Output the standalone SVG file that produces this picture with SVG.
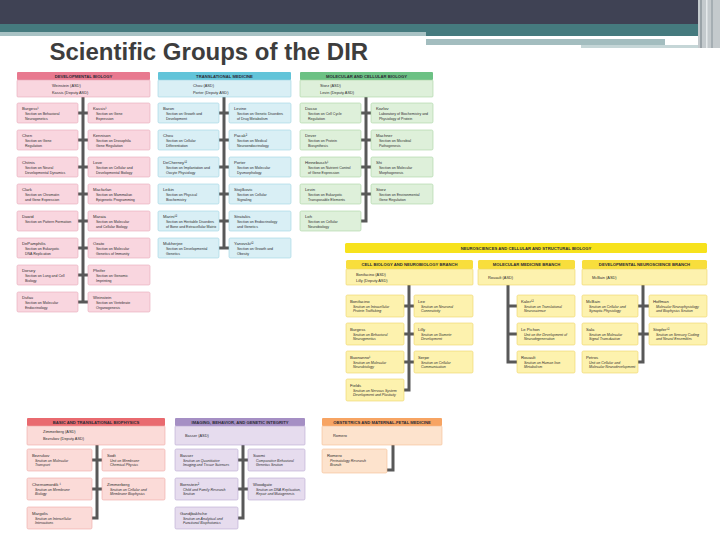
<svg xmlns="http://www.w3.org/2000/svg" width="720" height="540" viewBox="0 0 720 540">
<style>
text{font-family:"Liberation Sans",Arial,Helvetica,sans-serif;fill:#2e2e2e}
.title{font-size:24px;font-weight:bold;fill:#3d3d3d}
.hd{font-size:4.2px;font-weight:bold;text-anchor:middle;fill:#2b2b35}
.tp{font-size:3.9px}
.nm{font-size:4.2px}
.ds{font-size:3.55px}
.it .ds{font-style:italic}
.bx{stroke-width:0.6}
.dev .h{fill:#e8798f}.dev .bx{fill:#f9d6df;stroke:#e6a7b8}
.trn .h{fill:#62c4d9}.trn .bx{fill:#d9eff5;stroke:#9ed4e2}
.mcb .h{fill:#6cc184}.mcb .bx{fill:#def0da;stroke:#a8d5a3}
.neu .h{fill:#f8de3c}.neu .bx{fill:#fdf2ae;stroke:#efd466}
.bio .h{fill:#e96a6f}.bio .bx{fill:#fbdbd8;stroke:#eeaaa6}
.img .h{fill:#a58fc4}.img .bx{fill:#e6dcee;stroke:#bba8d1}
.obs .h{fill:#f7a463}.obs .bx{fill:#fde3cd;stroke:#f5bd91}
#connectors{stroke:#585858;stroke-width:3;fill:none;stroke-linecap:square}
</style>

<!-- slide banner -->
<g id="banner">
<rect x="0" y="0" width="720" height="540" fill="#ffffff"/>
<rect x="0" y="0" width="698" height="24" fill="#3f4254"/>
<rect x="0" y="24" width="698" height="8" fill="#457a7e"/>
<rect x="0" y="32" width="426" height="4" fill="#a8c2c4"/>
<rect x="426" y="32" width="272" height="4" fill="#457a7e"/>
<rect x="426" y="39" width="239" height="6" fill="#a3bdbf"/>
<rect x="581" y="45" width="124" height="3" fill="#c5d6d7"/>
<rect x="698" y="0" width="22" height="48" fill="#c4cacd"/>
<rect x="700" y="0" width="2" height="48" fill="#9aa3a8"/>
<rect x="706" y="0" width="1.5" height="48" fill="#e6eaec"/>
<rect x="711" y="0" width="2" height="48" fill="#a5aeb3"/>
<text class="title" x="49.5" y="59.5">Scientific Groups of the DIR</text>
</g>

<g id="connectors">
<path d="M83 97V302M78 113H88M78 140H88M78 167H88M78 194H88M78 221H88M78 248H88M78 275H88M78 302H88"/>
<path d="M224 97V248M219 113H229M219 140H229M219 167H229M219 194H229M219 221H229M219 248H229"/>
<path d="M366 97V221M361 113H371M361 140H371M361 167H371M361 194H371M361 221H366"/>
<path d="M409 285V390M404 306H414M404 334H414M404 362H414M404 390H409"/>
<path d="M508 285V362M508 306H517M508 334H517M508 362H517"/>
<path d="M643 285V362M638 306H649M638 334H649M638 362H643"/>
<path d="M97 445V518M92 460H102M92 489H102M92 518H97"/>
<path d="M243 445V518M238 460H248M238 489H248M238 518H243"/>
<path d="M393 445V470H387" stroke-linejoin="miter"/>
</g>

<!-- DEVELOPMENTAL BIOLOGY -->
<g class="dev">
<g id="dev-header"><rect class="h" x="17" y="72" width="133" height="8" rx="1"/><text class="hd" x="83.5" y="77.6">DEVELOPMENTAL BIOLOGY</text></g>
<g id="dev-top"><rect class="bx" x="17" y="80" width="133" height="17" rx="1"/><text class="tp" x="52" y="87">Weinstein (ASD)</text><text class="tp" x="52" y="93.5">Kassis (Deputy ASD)</text></g>
<g id="dev-burgess"><rect class="bx" x="17" y="103" width="61" height="20" rx="1.5"/><text class="nm" x="22" y="110">Burgess¹</text><text class="ds" x="25" y="115">Section on Behavioral</text><text class="ds" x="25" y="119.5">Neurogenetics</text></g>
<g id="dev-chen"><rect class="bx" x="17" y="130" width="61" height="20" rx="1.5"/><text class="nm" x="22" y="137">Chen</text><text class="ds" x="25" y="142">Section on Gene</text><text class="ds" x="25" y="146.5">Regulation</text></g>
<g id="dev-chitnis"><rect class="bx" x="17" y="157" width="61" height="20" rx="1.5"/><text class="nm" x="22" y="164">Chitnis</text><text class="ds" x="25" y="169">Section on Neural</text><text class="ds" x="25" y="173.5">Developmental Dynamics</text></g>
<g id="dev-clark"><rect class="bx" x="17" y="184" width="61" height="20" rx="1.5"/><text class="nm" x="22" y="191">Clark</text><text class="ds" x="25" y="196">Section on Chromatin</text><text class="ds" x="25" y="200.5">and Gene Expression</text></g>
<g id="dev-dawid"><rect class="bx" x="17" y="211" width="61" height="20" rx="1.5"/><text class="nm" x="22" y="218">Dawid</text><text class="ds" x="25" y="223">Section on Pattern Formation</text></g>
<g id="dev-depamphilis"><rect class="bx" x="17" y="238" width="61" height="20" rx="1.5"/><text class="nm" x="22" y="245">DePamphilis</text><text class="ds" x="25" y="250">Section on Eukaryotic</text><text class="ds" x="25" y="254.5">DNA Replication</text></g>
<g id="dev-dorsey"><rect class="bx" x="17" y="265" width="61" height="20" rx="1.5"/><text class="nm" x="22" y="272">Dorsey</text><text class="ds" x="25" y="277">Section on Lung and Cell</text><text class="ds" x="25" y="281.5">Biology</text></g>
<g id="dev-dufau"><rect class="bx" x="17" y="292" width="61" height="20" rx="1.5"/><text class="nm" x="22" y="299">Dufau</text><text class="ds" x="25" y="304">Section on Molecular</text><text class="ds" x="25" y="308.5">Endocrinology</text></g>
<g id="dev-kassis"><rect class="bx" x="88" y="103" width="62" height="20" rx="1.5"/><text class="nm" x="93" y="110">Kassis¹</text><text class="ds" x="96" y="115">Section on Gene</text><text class="ds" x="96" y="119.5">Expression</text></g>
<g id="dev-kennison"><rect class="bx" x="88" y="130" width="62" height="20" rx="1.5"/><text class="nm" x="93" y="137">Kennison</text><text class="ds" x="96" y="142">Section on Drosophila</text><text class="ds" x="96" y="146.5">Gene Regulation</text></g>
<g id="dev-love"><rect class="bx" x="88" y="157" width="62" height="20" rx="1.5"/><text class="nm" x="93" y="164">Love</text><text class="ds" x="96" y="169">Section on Cellular and</text><text class="ds" x="96" y="173.5">Developmental Biology</text></g>
<g id="dev-macfarlan"><rect class="bx" x="88" y="184" width="62" height="20" rx="1.5"/><text class="nm" x="93" y="191">Macfarlan</text><text class="ds" x="96" y="196">Section on Mammalian</text><text class="ds" x="96" y="200.5">Epigenetic Programming</text></g>
<g id="dev-maraia"><rect class="bx" x="88" y="211" width="62" height="20" rx="1.5"/><text class="nm" x="93" y="218">Maraia</text><text class="ds" x="96" y="223">Section on Molecular</text><text class="ds" x="96" y="227.5">and Cellular Biology</text></g>
<g id="dev-ozato"><rect class="bx" x="88" y="238" width="62" height="20" rx="1.5"/><text class="nm" x="93" y="245">Ozato</text><text class="ds" x="96" y="250">Section on Molecular</text><text class="ds" x="96" y="254.5">Genetics of Immunity</text></g>
<g id="dev-pfeifer"><rect class="bx" x="88" y="265" width="62" height="20" rx="1.5"/><text class="nm" x="93" y="272">Pfeifer</text><text class="ds" x="96" y="277">Section on Genomic</text><text class="ds" x="96" y="281.5">Imprinting</text></g>
<g id="dev-weinstein"><rect class="bx" x="88" y="292" width="62" height="20" rx="1.5"/><text class="nm" x="93" y="299">Weinstein</text><text class="ds" x="96" y="304">Section on Vertebrate</text><text class="ds" x="96" y="308.5">Organogenesis</text></g>
</g>

<!-- TRANSLATIONAL MEDICINE -->
<g class="trn">
<g id="trn-header"><rect class="h" x="158" y="72" width="133" height="8" rx="1"/><text class="hd" x="224.5" y="77.6">TRANSLATIONAL MEDICINE</text></g>
<g id="trn-top"><rect class="bx" x="158" y="80" width="133" height="17" rx="1"/><text class="tp" x="193" y="87">Chou (ASD)</text><text class="tp" x="193" y="93.5">Porter (Deputy ASD)</text></g>
<g id="trn-baron"><rect class="bx" x="158" y="103" width="61" height="20" rx="1.5"/><text class="nm" x="163" y="110">Baron</text><text class="ds" x="166" y="115">Section on Growth and</text><text class="ds" x="166" y="119.5">Development</text></g>
<g id="trn-chou"><rect class="bx" x="158" y="130" width="61" height="20" rx="1.5"/><text class="nm" x="163" y="137">Chou</text><text class="ds" x="166" y="142">Section on Cellular</text><text class="ds" x="166" y="146.5">Differentiation</text></g>
<g id="trn-decherney"><rect class="bx" x="158" y="157" width="61" height="20" rx="1.5"/><text class="nm" x="163" y="164">DeCherney¹²</text><text class="ds" x="166" y="169">Section on Implantation and</text><text class="ds" x="166" y="173.5">Oocyte Physiology</text></g>
<g id="trn-leikin"><rect class="bx" x="158" y="184" width="61" height="20" rx="1.5"/><text class="nm" x="163" y="191">Leikin</text><text class="ds" x="166" y="196">Section on Physical</text><text class="ds" x="166" y="200.5">Biochemistry</text></g>
<g id="trn-marini"><rect class="bx" x="158" y="211" width="61" height="20" rx="1.5"/><text class="nm" x="163" y="218">Marini¹²</text><text class="ds" x="166" y="223">Section on Heritable Disorders</text><text class="ds" x="166" y="227.5">of Bone and Extracellular Matrix</text></g>
<g id="trn-mukherjee"><rect class="bx" x="158" y="238" width="61" height="20" rx="1.5"/><text class="nm" x="163" y="245">Mukherjee</text><text class="ds" x="166" y="250">Section on Developmental</text><text class="ds" x="166" y="254.5">Genetics</text></g>
<g id="trn-levine"><rect class="bx" x="229" y="103" width="62" height="20" rx="1.5"/><text class="nm" x="234" y="110">Levine</text><text class="ds" x="237" y="115">Section on Genetic Disorders</text><text class="ds" x="237" y="119.5">of Drug Metabolism</text></g>
<g id="trn-pacak"><rect class="bx" x="229" y="130" width="62" height="20" rx="1.5"/><text class="nm" x="234" y="137">Pacak²</text><text class="ds" x="237" y="142">Section on Medical</text><text class="ds" x="237" y="146.5">Neuroendocrinology</text></g>
<g id="trn-porter"><rect class="bx" x="229" y="157" width="62" height="20" rx="1.5"/><text class="nm" x="234" y="164">Porter</text><text class="ds" x="237" y="169">Section on Molecular</text><text class="ds" x="237" y="173.5">Dysmorphology</text></g>
<g id="trn-stojilkovic"><rect class="bx" x="229" y="184" width="62" height="20" rx="1.5"/><text class="nm" x="234" y="191">Stojilkovic</text><text class="ds" x="237" y="196">Section on Cellular</text><text class="ds" x="237" y="200.5">Signaling</text></g>
<g id="trn-stratakis"><rect class="bx" x="229" y="211" width="62" height="20" rx="1.5"/><text class="nm" x="234" y="218">Stratakis</text><text class="ds" x="237" y="223">Section on Endocrinology</text><text class="ds" x="237" y="227.5">and Genetics</text></g>
<g id="trn-yanovski"><rect class="bx" x="229" y="238" width="62" height="20" rx="1.5"/><text class="nm" x="234" y="245">Yanovski¹²</text><text class="ds" x="237" y="250">Section on Growth and</text><text class="ds" x="237" y="254.5">Obesity</text></g>
</g>

<!-- MOLECULAR AND CELLULAR BIOLOGY -->
<g class="mcb">
<g id="mcb-header"><rect class="h" x="300" y="72" width="133" height="8" rx="1"/><text class="hd" x="366.5" y="77.6">MOLECULAR AND CELLULAR BIOLOGY</text></g>
<g id="mcb-top"><rect class="bx" x="300" y="80" width="133" height="17" rx="1"/><text class="tp" x="320" y="87">Storz (ASD)</text><text class="tp" x="320" y="93.5">Levin (Deputy ASD)</text></g>
<g id="mcb-dasso"><rect class="bx" x="300" y="103" width="61" height="20" rx="1.5"/><text class="nm" x="305" y="110">Dasso</text><text class="ds" x="308" y="115">Section on Cell Cycle</text><text class="ds" x="308" y="119.5">Regulation</text></g>
<g id="mcb-dever"><rect class="bx" x="300" y="130" width="61" height="20" rx="1.5"/><text class="nm" x="305" y="137">Dever</text><text class="ds" x="308" y="142">Section on Protein</text><text class="ds" x="308" y="146.5">Biosynthesis</text></g>
<g id="mcb-hinnebusch"><rect class="bx" x="300" y="157" width="61" height="20" rx="1.5"/><text class="nm" x="305" y="164">Hinnebusch¹</text><text class="ds" x="308" y="169">Section on Nutrient Control</text><text class="ds" x="308" y="173.5">of Gene Expression</text></g>
<g id="mcb-levin"><rect class="bx" x="300" y="184" width="61" height="20" rx="1.5"/><text class="nm" x="305" y="191">Levin</text><text class="ds" x="308" y="196">Section on Eukaryotic</text><text class="ds" x="308" y="200.5">Transposable Elements</text></g>
<g id="mcb-loh"><rect class="bx" x="300" y="211" width="61" height="20" rx="1.5"/><text class="nm" x="305" y="218">Loh</text><text class="ds" x="308" y="223">Section on Cellular</text><text class="ds" x="308" y="227.5">Neurobiology</text></g>
<g id="mcb-kozlov"><rect class="bx" x="371" y="103" width="62" height="20" rx="1.5"/><text class="nm" x="376" y="110">Kozlov</text><text class="ds" x="379" y="115">Laboratory of Biochemistry and</text><text class="ds" x="379" y="119.5">Physiology of Protein</text></g>
<g id="mcb-machner"><rect class="bx" x="371" y="130" width="62" height="20" rx="1.5"/><text class="nm" x="376" y="137">Machner</text><text class="ds" x="379" y="142">Section on Microbial</text><text class="ds" x="379" y="146.5">Pathogenesis</text></g>
<g id="mcb-shi"><rect class="bx" x="371" y="157" width="62" height="20" rx="1.5"/><text class="nm" x="376" y="164">Shi</text><text class="ds" x="379" y="169">Section on Molecular</text><text class="ds" x="379" y="173.5">Morphogenesis</text></g>
<g id="mcb-storz"><rect class="bx" x="371" y="184" width="62" height="20" rx="1.5"/><text class="nm" x="376" y="191">Storz</text><text class="ds" x="379" y="196">Section on Environmental</text><text class="ds" x="379" y="200.5">Gene Regulation</text></g>
</g>

<!-- NEUROSCIENCES -->
<g class="neu it">
<g id="neu-banner"><rect x="345" y="243" width="362" height="10" rx="1.5" fill="#f7e21c"/><text class="hd" x="526" y="249.6">NEUROSCIENCES AND CELLULAR AND STRUCTURAL BIOLOGY</text></g>
<g id="cbnb-header"><rect class="h" x="346" y="260" width="127" height="9" rx="1.5"/><text class="hd" x="409.5" y="266">CELL BIOLOGY AND NEUROBIOLOGY BRANCH</text></g>
<g id="cbnb-top"><rect class="bx" x="346" y="269" width="127" height="16" rx="1"/><text class="tp" x="356" y="275.5">Bonifacino (ASD)</text><text class="tp" x="356" y="281.5">Lilly (Deputy ASD)</text></g>
<g id="cbnb-bonifacino"><rect class="bx" x="346" y="295" width="58" height="22" rx="1.5"/><text class="nm" x="350" y="302.5">Bonifacino</text><text class="ds" x="353" y="307.5">Section on Intracellular</text><text class="ds" x="353" y="312">Protein Trafficking</text></g>
<g id="cbnb-burgess"><rect class="bx" x="346" y="323" width="58" height="22" rx="1.5"/><text class="nm" x="350" y="330.5">Burgess</text><text class="ds" x="353" y="335.5">Section on Behavioral</text><text class="ds" x="353" y="340">Neurogenetics</text></g>
<g id="cbnb-buonanno"><rect class="bx" x="346" y="351" width="58" height="22" rx="1.5"/><text class="nm" x="350" y="358.5">Buonanno¹</text><text class="ds" x="353" y="363.5">Section on Molecular</text><text class="ds" x="353" y="368">Neurobiology</text></g>
<g id="cbnb-fields"><rect class="bx" x="346" y="379" width="58" height="22" rx="1.5"/><text class="nm" x="350" y="386.5">Fields</text><text class="ds" x="353" y="391.5">Section on Nervous System</text><text class="ds" x="353" y="396">Development and Plasticity</text></g>
<g id="cbnb-lee"><rect class="bx" x="414" y="295" width="59" height="22" rx="1.5"/><text class="nm" x="418" y="302.5">Lee</text><text class="ds" x="421" y="307.5">Section on Neuronal</text><text class="ds" x="421" y="312">Connectivity</text></g>
<g id="cbnb-lilly"><rect class="bx" x="414" y="323" width="59" height="22" rx="1.5"/><text class="nm" x="418" y="330.5">Lilly</text><text class="ds" x="421" y="335.5">Section on Gamete</text><text class="ds" x="421" y="340">Development</text></g>
<g id="cbnb-serpe"><rect class="bx" x="414" y="351" width="59" height="22" rx="1.5"/><text class="nm" x="418" y="358.5">Serpe</text><text class="ds" x="421" y="363.5">Section on Cellular</text><text class="ds" x="421" y="368">Communication</text></g>

<g id="mmb-header"><rect class="h" x="478" y="260" width="97" height="9" rx="1.5"/><text class="hd" x="526.5" y="266">MOLECULAR MEDICINE BRANCH</text></g>
<g id="mmb-top"><rect class="bx" x="478" y="269" width="97" height="16" rx="1"/><text class="tp" x="488" y="279">Rouault (ASD)</text></g>
<g id="mmb-kaler"><rect class="bx" x="517" y="295" width="58" height="22" rx="1.5"/><text class="nm" x="521" y="302.5">Kaler¹²</text><text class="ds" x="524" y="307.5">Section on Translational</text><text class="ds" x="524" y="312">Neuroscience</text></g>
<g id="mmb-lepichon"><rect class="bx" x="517" y="323" width="58" height="22" rx="1.5"/><text class="nm" x="521" y="330.5">Le Pichon</text><text class="ds" x="524" y="335.5">Unit on the Development of</text><text class="ds" x="524" y="340">Neurodegeneration</text></g>
<g id="mmb-rouault"><rect class="bx" x="517" y="351" width="58" height="22" rx="1.5"/><text class="nm" x="521" y="358.5">Rouault</text><text class="ds" x="524" y="363.5">Section on Human Iron</text><text class="ds" x="524" y="368">Metabolism</text></g>

<g id="dnb-header"><rect class="h" x="582" y="260" width="125" height="9" rx="1.5"/><text class="hd" x="644.5" y="266">DEVELOPMENTAL NEUROSCIENCE BRANCH</text></g>
<g id="dnb-top"><rect class="bx" x="582" y="269" width="125" height="16" rx="1"/><text class="tp" x="592" y="279">McBain (ASD)</text></g>
<g id="dnb-mcbain"><rect class="bx" x="582" y="295" width="56" height="22" rx="1.5"/><text class="nm" x="586" y="302.5">McBain</text><text class="ds" x="589" y="307.5">Section on Cellular and</text><text class="ds" x="589" y="312">Synaptic Physiology</text></g>
<g id="dnb-sala"><rect class="bx" x="582" y="323" width="56" height="22" rx="1.5"/><text class="nm" x="586" y="330.5">Sala</text><text class="ds" x="589" y="335.5">Section on Molecular</text><text class="ds" x="589" y="340">Signal Transduction</text></g>
<g id="dnb-petros"><rect class="bx" x="582" y="351" width="56" height="22" rx="1.5"/><text class="nm" x="586" y="358.5">Petros</text><text class="ds" x="589" y="363.5">Unit on Cellular and</text><text class="ds" x="589" y="368">Molecular Neurodevelopment</text></g>
<g id="dnb-hoffman"><rect class="bx" x="649" y="295" width="58" height="22" rx="1.5"/><text class="nm" x="653" y="302.5">Hoffman</text><text class="ds" x="656" y="307.5">Molecular Neurophysiology</text><text class="ds" x="656" y="312">and Biophysics Section</text></g>
<g id="dnb-stopfer"><rect class="bx" x="649" y="323" width="58" height="22" rx="1.5"/><text class="nm" x="653" y="330.5">Stopfer¹²</text><text class="ds" x="656" y="335.5">Section on Sensory Coding</text><text class="ds" x="656" y="340">and Neural Ensembles</text></g>
</g>

<!-- BASIC AND TRANSLATIONAL BIOPHYSICS -->
<g class="bio it">
<g id="bio-header"><rect class="h" x="27" y="418" width="138" height="8" rx="1"/><text class="hd" x="96" y="423.6">BASIC AND TRANSLATIONAL BIOPHYSICS</text></g>
<g id="bio-top"><rect class="bx" x="27" y="426" width="138" height="19" rx="1"/><text class="tp" x="43" y="433">Zimmerberg (ASD)</text><text class="tp" x="43" y="439.5">Bezrukov (Deputy ASD)</text></g>
<g id="bio-bezrukov"><rect class="bx" x="27" y="449" width="65" height="22" rx="1.5"/><text class="nm" x="32" y="456.5">Bezrukov</text><text class="ds" x="35" y="461.5">Section on Molecular</text><text class="ds" x="35" y="466">Transport</text></g>
<g id="bio-chernomordik"><rect class="bx" x="27" y="478" width="65" height="22" rx="1.5"/><text class="nm" x="32" y="485.5">Chernomordik ¹</text><text class="ds" x="35" y="490.5">Section on Membrane</text><text class="ds" x="35" y="495">Biology</text></g>
<g id="bio-margolis"><rect class="bx" x="27" y="507" width="65" height="22" rx="1.5"/><text class="nm" x="32" y="514.5">Margolis</text><text class="ds" x="35" y="519.5">Section on Intercellular</text><text class="ds" x="35" y="524">Interactions</text></g>
<g id="bio-sodt"><rect class="bx" x="102" y="449" width="63" height="22" rx="1.5"/><text class="nm" x="107" y="456.5">Sodt</text><text class="ds" x="110" y="461.5">Unit on Membrane</text><text class="ds" x="110" y="466">Chemical Physics</text></g>
<g id="bio-zimmerberg"><rect class="bx" x="102" y="478" width="63" height="22" rx="1.5"/><text class="nm" x="107" y="485.5">Zimmerberg</text><text class="ds" x="110" y="490.5">Section on Cellular and</text><text class="ds" x="110" y="495">Membrane Biophysics</text></g>
</g>

<!-- IMAGING, BEHAVIOR, AND GENETIC INTEGRITY -->
<g class="img it">
<g id="img-header"><rect class="h" x="175" y="418" width="130" height="8" rx="1"/><text class="hd" x="240" y="423.6">IMAGING, BEHAVIOR, AND GENETIC INTEGRITY</text></g>
<g id="img-top"><rect class="bx" x="175" y="426" width="130" height="19" rx="1"/><text class="tp" x="185" y="437">Basser (ASD)</text></g>
<g id="img-basser"><rect class="bx" x="175" y="449" width="63" height="22" rx="1.5"/><text class="nm" x="180" y="456.5">Basser</text><text class="ds" x="183" y="461.5">Section on Quantitative</text><text class="ds" x="183" y="466">Imaging and Tissue Sciences</text></g>
<g id="img-bornstein"><rect class="bx" x="175" y="478" width="63" height="22" rx="1.5"/><text class="nm" x="180" y="485.5">Bornstein²</text><text class="ds" x="183" y="490.5">Child and Family Research</text><text class="ds" x="183" y="495">Section</text></g>
<g id="img-gandjbakhche"><rect class="bx" x="175" y="507" width="63" height="22" rx="1.5"/><text class="nm" x="180" y="514.5">Gandjbakhche</text><text class="ds" x="183" y="519.5">Section on Analytical and</text><text class="ds" x="183" y="524">Functional Biophotonics</text></g>
<g id="img-suomi"><rect class="bx" x="248" y="449" width="57" height="22" rx="1.5"/><text class="nm" x="253" y="456.5">Suomi</text><text class="ds" x="256" y="461.5">Comparative Behavioral</text><text class="ds" x="256" y="466">Genetics Section</text></g>
<g id="img-woodgate"><rect class="bx" x="248" y="478" width="57" height="22" rx="1.5"/><text class="nm" x="253" y="485.5">Woodgate</text><text class="ds" x="256" y="490.5">Section on DNA Replication,</text><text class="ds" x="256" y="495">Repair and Mutagenesis</text></g>
</g>

<!-- OBSTETRICS -->
<g class="obs it">
<g id="obs-header"><rect class="h" x="322" y="418" width="120" height="8" rx="1"/><text class="hd" x="382" y="423.6">OBSTETRICS AND MATERNAL-FETAL MEDICINE</text></g>
<g id="obs-top"><rect class="bx" x="322" y="426" width="120" height="19" rx="1"/><text class="tp" x="333" y="437">Romero</text></g>
<g id="obs-romero"><rect class="bx" x="322" y="449" width="65" height="24" rx="1.5"/><text class="nm" x="327" y="456.5">Romero</text><text class="ds" x="330" y="461.5">Perinatology Research</text><text class="ds" x="330" y="466">Branch</text></g>
</g>
</svg>
